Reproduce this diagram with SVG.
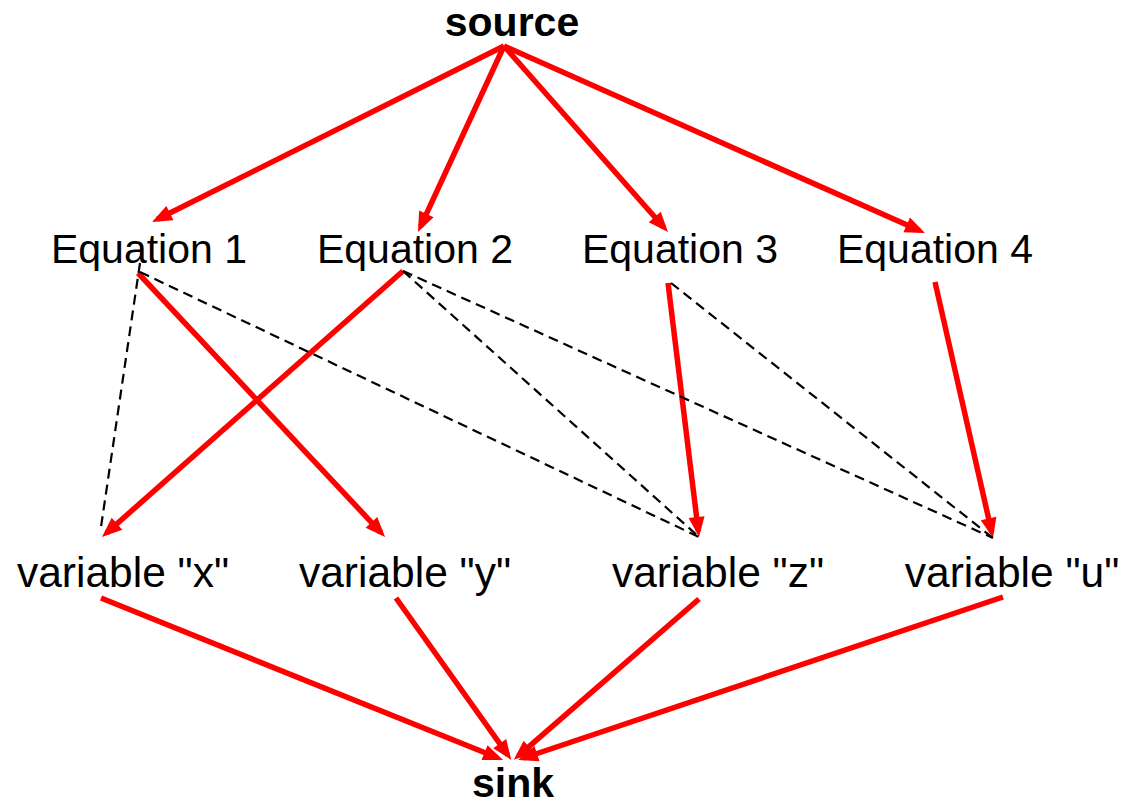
<svg xmlns="http://www.w3.org/2000/svg" width="1122" height="805" viewBox="0 0 1122 805">
<style>
text{font-family:"Liberation Sans",Arial,sans-serif;font-size:41px;fill:#000;text-anchor:middle}
.b{font-weight:bold}
.v{font-size:42.5px}
.r{stroke:#ff0000;stroke-width:5.5;fill:none;marker-end:url(#ah)}
.d{stroke:#000;stroke-width:2.2;stroke-dasharray:10,6;fill:none}
</style>
<defs>
<marker id="ah" markerUnits="userSpaceOnUse" markerWidth="24" markerHeight="20" refX="14" refY="8" orient="auto" overflow="visible">
<path d="M0,0 L20,8 L0,16 z" fill="#ff0000"/>
</marker>
</defs>
<rect width="1122" height="805" fill="#fff"/>
<g id="connectors">
<line class="r" x1="504" y1="46" x2="157.4" y2="219.3"/>
<line class="r" x1="504" y1="46" x2="420.5" y2="226.6"/>
<line class="r" x1="504" y1="46" x2="664" y2="227.5"/>
<line class="r" x1="504" y1="46" x2="919.5" y2="230.6"/>
<line class="r" x1="403" y1="271" x2="106.5" y2="533"/>
<line class="r" x1="138" y1="273" x2="381" y2="532.6"/>
<line class="r" x1="668" y1="283" x2="698.3" y2="531"/>
<line class="r" x1="935" y1="282" x2="991.7" y2="532.1"/>
<line class="r" x1="101" y1="598" x2="497.5" y2="757.8"/>
<line class="r" x1="396" y1="598" x2="507.8" y2="755"/>
<line class="r" x1="699" y1="599" x2="518.3" y2="755.9"/>
<line class="r" x1="1003" y1="597" x2="523.7" y2="758"/>
<line class="d" x1="140" y1="263" x2="101" y2="527"/>
<line class="d" x1="140" y1="272" x2="699" y2="537"/>
<line class="d" x1="403" y1="271" x2="699" y2="537"/>
<line class="d" x1="403" y1="271" x2="993" y2="538"/>
<line class="d" x1="671" y1="283" x2="993" y2="538"/>
</g>
<g id="source"><text class="b" x="512" y="36">source</text></g>
<g id="eq1"><text x="149" y="263">Equation 1</text></g>
<g id="eq2"><text x="415" y="263">Equation 2</text></g>
<g id="eq3"><text x="680" y="263">Equation 3</text></g>
<g id="eq4"><text x="935" y="263">Equation 4</text></g>
<g id="varx"><text class="v" x="123" y="587">variable "x"</text></g>
<g id="vary"><text class="v" x="405" y="587">variable "y"</text></g>
<g id="varz"><text class="v" x="718" y="587">variable "z"</text></g>
<g id="varu"><text class="v" x="1012" y="587">variable "u"</text></g>
<g id="sink"><text class="b" x="513" y="797">sink</text></g>
</svg>
